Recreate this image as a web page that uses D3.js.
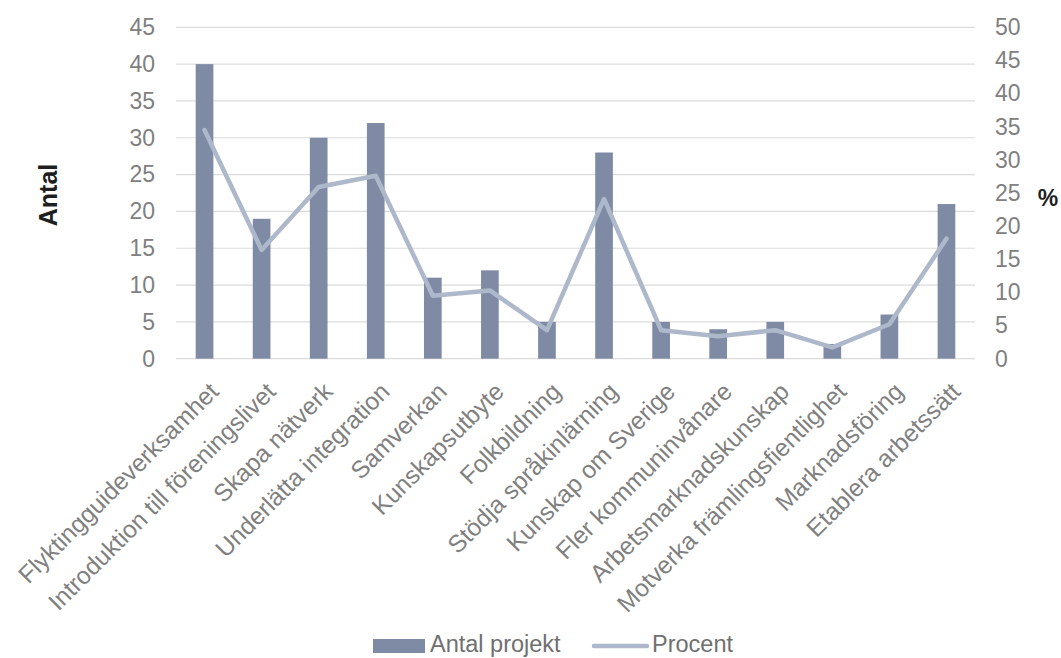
<!DOCTYPE html>
<html>
<head>
<meta charset="utf-8">
<script src="https://cdn.jsdelivr.net/npm/d3@7/dist/d3.min.js"></script>
<style>
  html, body { margin: 0; padding: 0; background: #fff; }
  svg { display: block; font-family: "Liberation Sans", Arial, sans-serif; }
</style>
</head>
<body>
<svg id="chart" width="1061" height="658"></svg>
<script>
const categories = [
  "Flyktingguideverksamhet",
  "Introduktion till föreningslivet",
  "Skapa nätverk",
  "Underlätta integration",
  "Samverkan",
  "Kunskapsutbyte",
  "Folkbildning",
  "Stödja språkinlärning",
  "Kunskap om Sverige",
  "Fler kommuninvånare",
  "Arbetsmarknadskunskap",
  "Motverka främlingsfientlighet",
  "Marknadsföring",
  "Etablera arbetssätt"
];
const antalProjekt = [40, 19, 30, 32, 11, 12, 5, 28, 5, 4, 5, 2, 6, 21];
const procent = [34.5, 16.4, 25.9, 27.6, 9.5, 10.3, 4.3, 24.1, 4.3, 3.4, 4.3, 1.7, 5.2, 18.1];
const leftTicks = [0, 5, 10, 15, 20, 25, 30, 35, 40, 45];
const rightTicks = [0, 5, 10, 15, 20, 25, 30, 35, 40, 45, 50];
const seriesNames = ["Antal projekt", "Procent"];
const leftTitle = "Antal";
const rightTitle = "%";

const barColor = "#7f8ba4";
const lineColor = "#adb9cb";
const textColor = "#808080";
const gridColor = "#dcdcdc";

const svg = d3.select("#chart");
const plotLeft = 176, plotRight = 975, plotTop = 27.3, plotBottom = 358.7;

const x = d3.scaleBand().domain(categories).range([plotLeft, plotRight])
  .paddingInner(0.69).paddingOuter(0.345);
const yL = d3.scaleLinear().domain([0, 45]).range([plotBottom, plotTop]);
const yR = d3.scaleLinear().domain([0, 50]).range([plotBottom, plotTop]);

// gridlines
svg.append("g").selectAll("line").data(leftTicks).join("line")
  .attr("x1", plotLeft).attr("x2", plotRight)
  .attr("y1", d => yL(d)).attr("y2", d => yL(d))
  .attr("stroke", gridColor).attr("stroke-width", 1.2);

// left axis
const gL = svg.append("g").attr("transform", `translate(${plotLeft},0)`)
  .call(d3.axisLeft(yL).tickValues(leftTicks).tickSize(0).tickPadding(21));
gL.select(".domain").remove();
gL.selectAll("text").attr("fill", textColor).style("font-size", "23px")
  .style("font-family", '"Liberation Sans", Arial, sans-serif');

// right axis
const gR = svg.append("g").attr("transform", `translate(${plotRight},0)`)
  .call(d3.axisRight(yR).tickValues(rightTicks).tickSize(0).tickPadding(20));
gR.select(".domain").remove();
gR.selectAll("text").attr("fill", textColor).style("font-size", "23px")
  .style("font-family", '"Liberation Sans", Arial, sans-serif');

// bars
svg.append("g").selectAll("rect").data(antalProjekt).join("rect")
  .attr("x", (d, i) => x(categories[i]))
  .attr("width", x.bandwidth())
  .attr("y", d => yL(d))
  .attr("height", d => yL(0) - yL(d))
  .attr("fill", barColor);

// line
const line = d3.line()
  .x((d, i) => x(categories[i]) + x.bandwidth() / 2)
  .y(d => yR(d));
svg.append("path").datum(procent)
  .attr("d", line)
  .attr("fill", "none")
  .attr("stroke", lineColor)
  .attr("stroke-width", 4.5)
  .attr("stroke-linejoin", "round")
  .attr("stroke-linecap", "round");

// x labels
svg.append("g").selectAll("text").data(categories).join("text")
  .attr("transform", d => `translate(${x(d) + x.bandwidth() / 2 + 3},${plotBottom + 22}) rotate(-45)`)
  .attr("text-anchor", "end")
  .attr("dy", "0.72em")
  .attr("fill", textColor)
  .style("font-size", "24.5px")
  .text(d => d);

// axis titles
svg.append("text")
  .attr("transform", "translate(57,195) rotate(-90)")
  .attr("text-anchor", "middle")
  .attr("fill", "#1f1f1f")
  .style("font-size", "25px").style("font-weight", "bold")
  .text(leftTitle);
svg.append("text")
  .attr("x", 1048).attr("y", 206)
  .attr("text-anchor", "middle")
  .attr("fill", "#1f1f1f")
  .style("font-size", "23px").style("font-weight", "bold")
  .text(rightTitle);

// legend
const lg = svg.append("g");
lg.append("rect").attr("x", 373).attr("y", 639).attr("width", 52).attr("height", 14).attr("fill", barColor);
lg.append("text").attr("x", 430).attr("y", 652).attr("fill", "#707070").style("font-size", "23.5px").text(seriesNames[0]);
lg.append("line").attr("x1", 594).attr("x2", 647).attr("y1", 646).attr("y2", 646)
  .attr("stroke", lineColor).attr("stroke-width", 4.5).attr("stroke-linecap", "round");
lg.append("text").attr("x", 652).attr("y", 652).attr("fill", "#707070").style("font-size", "23.5px").text(seriesNames[1]);
</script>
</body>
</html>
